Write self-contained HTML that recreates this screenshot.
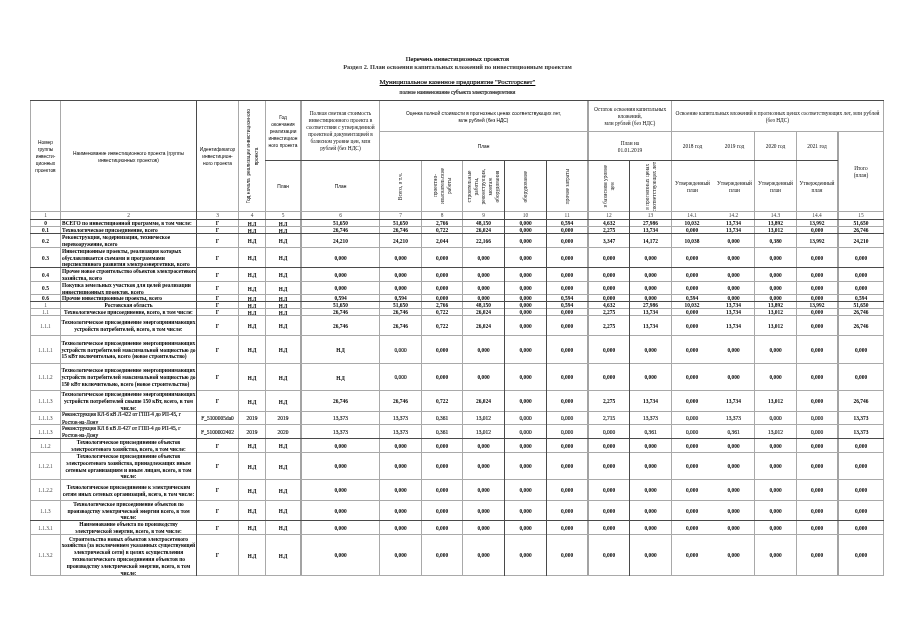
<!DOCTYPE html>
<html lang="ru"><head><meta charset="utf-8"><title>Перечень инвестиционных проектов</title><style>
*{margin:0;padding:0;box-sizing:border-box}
html,body{width:905px;height:640px;background:#fff;overflow:hidden}
body{position:relative;font-family:"Liberation Serif","DejaVu Serif",serif;color:#000}
i{position:absolute;display:block}
.t{position:absolute;left:0;width:915px;text-align:center;white-space:nowrap;font-family:"Liberation Serif",serif}
.t1{top:55px;font-size:6.63px;line-height:8px}
.t2{top:62.5px;font-size:6.32px;font-weight:bold;line-height:8px;color:#333}
.t3{top:78px;font-size:6.84px;line-height:8px}
.t3 u{text-decoration-thickness:0.6px;text-underline-offset:1px}
.t4{top:88.5px;font-size:5.38px;line-height:7px;color:#222}
.c{position:absolute;display:flex;align-items:center;justify-content:center;text-align:center;overflow:visible}
.c span{display:block}
.hs{font-family:"Liberation Sans",sans-serif;font-size:4.85px;line-height:7px;color:#000}
.hr{font-family:"Liberation Serif",serif;font-size:5.4px;line-height:7px;color:#111}
.r span{writing-mode:vertical-rl;transform:rotate(180deg);white-space:nowrap}
.nr{font-size:5.4px;line-height:7px;color:#444}
.bi{font-size:5.45px;line-height:6.7px;font-weight:bold}
.bi.light{font-weight:normal;color:#444;font-size:5.2px}
.bn{font-size:5.45px;line-height:6.95px;font-weight:bold;padding:0 1px;white-space:nowrap}
.bn.left{justify-content:flex-start;text-align:left}
.bn.just{text-align:justify;text-align-last:left}
.bn.regn{font-weight:normal;font-size:5.35px;line-height:7.2px;color:#111}
.bn.toptxt{align-items:flex-start;padding-top:0.5px}
.bv{font-size:5.45px;line-height:6.7px;font-weight:bold;white-space:nowrap}
.c.ndv{font-size:5.2px;padding-top:2px;letter-spacing:-0.15px}
.bv.regv{font-weight:normal;color:#222}
.t1,.t3,.t4,.regn,.regv{-webkit-text-stroke:0.15px currentColor}
.hs,.hr{padding-top:2px}
.bi,.bn,.bv{padding-top:1px}
</style></head><body>
<div class="t t1">Перечень инвестиционных проектов</div>
<div class="t t2">Раздел 2. План освоения капитальных вложений по инвестиционным проектам</div>
<div class="t t3"><u>Муниципальное казенное предприятие "Ростгорсвет"</u></div>
<div class="t t4">полное наименование субъекта электроэнергетики</div>
<div class="c hs" style="left:31px;top:100px;width:29px;height:111px;"><span>Номер<br>группы<br>инвести-<br>ционных<br>проектов</span></div>
<div class="c hs" style="left:61px;top:100px;width:135px;height:111px;"><span>Наименование инвестиционного проекта (группы<br>инвестиционных проектов)</span></div>
<div class="c hs" style="left:197px;top:100px;width:41px;height:111px;"><span>Идентификатор<br>инвестицион-<br>ного проекта</span></div>
<div class="c r hs" style="left:239px;top:100px;width:26px;height:111px;line-height:8px;padding-left:2px;"><span>Год начала &nbsp;реализации инвестиционного<br>проекта</span></div>
<div class="c hs" style="left:266px;top:100px;width:34px;height:60px;"><span>Год<br>окончания<br>реализации<br>инвестицион<br>ного проекта</span></div>
<div class="c hs" style="left:266px;top:160px;width:34px;height:51px;"><span>План</span></div>
<div class="c hr" style="left:302px;top:100px;width:77px;height:60px;"><span>Полная сметная стоимость<br>инвестиционного проекта в<br>соответствии с утвержденной<br>проектной документацией в<br>базисном уровне цен, млн<br>рублей (без НДС)</span></div>
<div class="c hs" style="left:302px;top:160px;width:77px;height:51px;"><span>План</span></div>
<div class="c hs" style="left:380px;top:100px;width:207px;height:31px;"><span>Оценка полной стоимости в прогнозных ценах соответствующих лет,<br>млн рублей (без НДС)</span></div>
<div class="c hs" style="left:380px;top:131px;width:207px;height:29px;"><span>План</span></div>
<div class="c r hr" style="left:380px;top:160px;width:41px;height:51px;"><span>Всего, в т.ч.</span></div>
<div class="c r hr" style="left:422px;top:160px;width:40px;height:51px;"><span>проектно-<br>изыскательские<br>работы</span></div>
<div class="c r hr" style="left:463px;top:160px;width:41px;height:51px;"><span>строительные<br>работы,<br>реконструкция,<br>монтаж<br>оборудования</span></div>
<div class="c r hr" style="left:505px;top:160px;width:41px;height:51px;"><span>оборудование</span></div>
<div class="c r hr" style="left:547px;top:160px;width:40px;height:51px;"><span>прочие затраты</span></div>
<div class="c hr" style="left:589px;top:100px;width:82px;height:31px;"><span>Остаток освоения капитальных<br>вложений,<br>млн рублей (без НДС)</span></div>
<div class="c hr" style="left:589px;top:131px;width:82px;height:29px;"><span>План на<br>01.01.2019</span></div>
<div class="c r hr" style="left:589px;top:160px;width:40px;height:51px;"><span>в базисном уровне<br>цен</span></div>
<div class="c r hr" style="left:630px;top:160px;width:41px;height:51px;"><span>в прогнозных ценах<br>соответствующих лет</span></div>
<div class="c hr" style="left:672px;top:100px;width:211px;height:31px;"><span>Освоение капитальных вложений в прогнозных ценах соответствующих лет, млн рублей<br>(без НДС)</span></div>
<div class="c hr" style="left:672px;top:131px;width:41px;height:29px;"><span>2018 год</span></div>
<div class="c hr" style="left:672px;top:160px;width:41px;height:51px;"><span>Утвержденный<br>план</span></div>
<div class="c hr" style="left:714px;top:131px;width:41px;height:29px;"><span>2019 год</span></div>
<div class="c hr" style="left:714px;top:160px;width:41px;height:51px;"><span>Утвержденный<br>план</span></div>
<div class="c hr" style="left:755px;top:131px;width:41px;height:29px;"><span>2020 год</span></div>
<div class="c hr" style="left:755px;top:160px;width:41px;height:51px;"><span>Утвержденный<br>план</span></div>
<div class="c hr" style="left:797px;top:131px;width:40px;height:29px;"><span>2021 год</span></div>
<div class="c hr" style="left:797px;top:160px;width:40px;height:51px;"><span>Утвержденный<br>план</span></div>
<div class="c hr" style="left:839px;top:131px;width:44px;height:80px;"><span>Итого<br>(план)</span></div>
<div class="c nr" style="left:31px;top:211px;width:29px;height:8px;"><span>1</span></div>
<div class="c nr" style="left:61px;top:211px;width:135px;height:8px;"><span>2</span></div>
<div class="c nr" style="left:197px;top:211px;width:41px;height:8px;"><span>3</span></div>
<div class="c nr" style="left:239px;top:211px;width:26px;height:8px;"><span>4</span></div>
<div class="c nr" style="left:266px;top:211px;width:34px;height:8px;"><span>5</span></div>
<div class="c nr" style="left:302px;top:211px;width:77px;height:8px;"><span>6</span></div>
<div class="c nr" style="left:380px;top:211px;width:41px;height:8px;"><span>7</span></div>
<div class="c nr" style="left:422px;top:211px;width:40px;height:8px;"><span>8</span></div>
<div class="c nr" style="left:463px;top:211px;width:41px;height:8px;"><span>9</span></div>
<div class="c nr" style="left:505px;top:211px;width:41px;height:8px;"><span>10</span></div>
<div class="c nr" style="left:547px;top:211px;width:40px;height:8px;"><span>11</span></div>
<div class="c nr" style="left:589px;top:211px;width:40px;height:8px;"><span>12</span></div>
<div class="c nr" style="left:630px;top:211px;width:41px;height:8px;"><span>13</span></div>
<div class="c nr" style="left:672px;top:211px;width:40px;height:8px;"><span>14.1</span></div>
<div class="c nr" style="left:713px;top:211px;width:41px;height:8px;"><span>14.2</span></div>
<div class="c nr" style="left:755px;top:211px;width:41px;height:8px;"><span>14.3</span></div>
<div class="c nr" style="left:797px;top:211px;width:40px;height:8px;"><span>14.4</span></div>
<div class="c nr" style="left:839px;top:211px;width:44px;height:8px;"><span>15</span></div>
<div class="c bi" style="left:31px;top:220px;width:29px;height:6px;"><span>0</span></div>
<div class="c bn left" style="left:61px;top:220px;width:135px;height:6px;"><span>ВСЕГО по инвестиционной программе, в том числе:</span></div>
<div class="c bv" style="left:197px;top:220px;width:41px;height:6px;"><span>Г</span></div>
<div class="c bv ndv" style="left:239px;top:220px;width:26px;height:6px;"><span>Н.Д</span></div>
<div class="c bv ndv" style="left:266px;top:220px;width:34px;height:6px;"><span>Н.Д</span></div>
<div class="c bv" style="left:302px;top:220px;width:77px;height:6px;"><span>51,650</span></div>
<div class="c bv" style="left:380px;top:220px;width:41px;height:6px;"><span>51,650</span></div>
<div class="c bv" style="left:422px;top:220px;width:40px;height:6px;"><span>2,766</span></div>
<div class="c bv" style="left:463px;top:220px;width:41px;height:6px;"><span>48,150</span></div>
<div class="c bv" style="left:505px;top:220px;width:41px;height:6px;"><span>0,000</span></div>
<div class="c bv" style="left:547px;top:220px;width:40px;height:6px;"><span>0,594</span></div>
<div class="c bv" style="left:589px;top:220px;width:40px;height:6px;"><span>4,632</span></div>
<div class="c bv" style="left:630px;top:220px;width:41px;height:6px;"><span>27,986</span></div>
<div class="c bv" style="left:672px;top:220px;width:40px;height:6px;"><span>10,032</span></div>
<div class="c bv" style="left:713px;top:220px;width:41px;height:6px;"><span>13,734</span></div>
<div class="c bv" style="left:755px;top:220px;width:41px;height:6px;"><span>13,892</span></div>
<div class="c bv" style="left:797px;top:220px;width:40px;height:6px;"><span>13,992</span></div>
<div class="c bv" style="left:839px;top:220px;width:44px;height:6px;"><span>51,650</span></div>
<div class="c bi" style="left:31px;top:227px;width:29px;height:6px;"><span>0.1</span></div>
<div class="c bn left" style="left:61px;top:227px;width:135px;height:6px;"><span>Технологическое присоединение, всего</span></div>
<div class="c bv" style="left:197px;top:227px;width:41px;height:6px;"><span>Г</span></div>
<div class="c bv ndv" style="left:239px;top:227px;width:26px;height:6px;"><span>Н.Д</span></div>
<div class="c bv ndv" style="left:266px;top:227px;width:34px;height:6px;"><span>Н.Д</span></div>
<div class="c bv" style="left:302px;top:227px;width:77px;height:6px;"><span>26,746</span></div>
<div class="c bv" style="left:380px;top:227px;width:41px;height:6px;"><span>26,746</span></div>
<div class="c bv" style="left:422px;top:227px;width:40px;height:6px;"><span>0,722</span></div>
<div class="c bv" style="left:463px;top:227px;width:41px;height:6px;"><span>26,024</span></div>
<div class="c bv" style="left:505px;top:227px;width:41px;height:6px;"><span>0,000</span></div>
<div class="c bv" style="left:547px;top:227px;width:40px;height:6px;"><span>0,000</span></div>
<div class="c bv" style="left:589px;top:227px;width:40px;height:6px;"><span>2,275</span></div>
<div class="c bv" style="left:630px;top:227px;width:41px;height:6px;"><span>13,734</span></div>
<div class="c bv" style="left:672px;top:227px;width:40px;height:6px;"><span>0,000</span></div>
<div class="c bv" style="left:713px;top:227px;width:41px;height:6px;"><span>13,734</span></div>
<div class="c bv" style="left:755px;top:227px;width:41px;height:6px;"><span>13,012</span></div>
<div class="c bv" style="left:797px;top:227px;width:40px;height:6px;"><span>0,000</span></div>
<div class="c bv" style="left:839px;top:227px;width:44px;height:6px;"><span>26,746</span></div>
<div class="c bi" style="left:31px;top:234px;width:29px;height:13px;"><span>0.2</span></div>
<div class="c bn left" style="left:61px;top:234px;width:135px;height:13px;"><span>Реконструкция, модернизация, техническое<br>перевооружение, всего</span></div>
<div class="c bv" style="left:197px;top:234px;width:41px;height:13px;"><span>Г</span></div>
<div class="c bv ndv" style="left:239px;top:234px;width:26px;height:13px;"><span>Н.Д</span></div>
<div class="c bv ndv" style="left:266px;top:234px;width:34px;height:13px;"><span>Н.Д</span></div>
<div class="c bv" style="left:302px;top:234px;width:77px;height:13px;"><span>24,210</span></div>
<div class="c bv" style="left:380px;top:234px;width:41px;height:13px;"><span>24,210</span></div>
<div class="c bv" style="left:422px;top:234px;width:40px;height:13px;"><span>2,044</span></div>
<div class="c bv" style="left:463px;top:234px;width:41px;height:13px;"><span>22,166</span></div>
<div class="c bv" style="left:505px;top:234px;width:41px;height:13px;"><span>0,000</span></div>
<div class="c bv" style="left:547px;top:234px;width:40px;height:13px;"><span>0,000</span></div>
<div class="c bv" style="left:589px;top:234px;width:40px;height:13px;"><span>3,347</span></div>
<div class="c bv" style="left:630px;top:234px;width:41px;height:13px;"><span>14,172</span></div>
<div class="c bv" style="left:672px;top:234px;width:40px;height:13px;"><span>10,038</span></div>
<div class="c bv" style="left:713px;top:234px;width:41px;height:13px;"><span>0,000</span></div>
<div class="c bv" style="left:755px;top:234px;width:41px;height:13px;"><span>0,380</span></div>
<div class="c bv" style="left:797px;top:234px;width:40px;height:13px;"><span>13,992</span></div>
<div class="c bv" style="left:839px;top:234px;width:44px;height:13px;"><span>24,210</span></div>
<div class="c bi" style="left:31px;top:248px;width:29px;height:19px;"><span>0.3</span></div>
<div class="c bn left" style="left:61px;top:248px;width:135px;height:19px;"><span>Инвестиционные проекты, реализация которых<br>обуславливается схемами и программами<br>перспективного развития электроэнергетики, всего</span></div>
<div class="c bv" style="left:197px;top:248px;width:41px;height:19px;"><span>Г</span></div>
<div class="c bv ndv" style="left:239px;top:248px;width:26px;height:19px;"><span>Н.Д</span></div>
<div class="c bv ndv" style="left:266px;top:248px;width:34px;height:19px;"><span>Н.Д</span></div>
<div class="c bv" style="left:302px;top:248px;width:77px;height:19px;"><span>0,000</span></div>
<div class="c bv" style="left:380px;top:248px;width:41px;height:19px;"><span>0,000</span></div>
<div class="c bv" style="left:422px;top:248px;width:40px;height:19px;"><span>0,000</span></div>
<div class="c bv" style="left:463px;top:248px;width:41px;height:19px;"><span>0,000</span></div>
<div class="c bv" style="left:505px;top:248px;width:41px;height:19px;"><span>0,000</span></div>
<div class="c bv" style="left:547px;top:248px;width:40px;height:19px;"><span>0,000</span></div>
<div class="c bv" style="left:589px;top:248px;width:40px;height:19px;"><span>0,000</span></div>
<div class="c bv" style="left:630px;top:248px;width:41px;height:19px;"><span>0,000</span></div>
<div class="c bv" style="left:672px;top:248px;width:40px;height:19px;"><span>0,000</span></div>
<div class="c bv" style="left:713px;top:248px;width:41px;height:19px;"><span>0,000</span></div>
<div class="c bv" style="left:755px;top:248px;width:41px;height:19px;"><span>0,000</span></div>
<div class="c bv" style="left:797px;top:248px;width:40px;height:19px;"><span>0,000</span></div>
<div class="c bv" style="left:839px;top:248px;width:44px;height:19px;"><span>0,000</span></div>
<div class="c bi" style="left:31px;top:268px;width:29px;height:13px;"><span>0.4</span></div>
<div class="c bn left" style="left:61px;top:268px;width:135px;height:13px;"><span>Прочее новое строительство объектов электросетевого<br>хозяйства, всего</span></div>
<div class="c bv" style="left:197px;top:268px;width:41px;height:13px;"><span>Г</span></div>
<div class="c bv ndv" style="left:239px;top:268px;width:26px;height:13px;"><span>Н.Д</span></div>
<div class="c bv ndv" style="left:266px;top:268px;width:34px;height:13px;"><span>Н.Д</span></div>
<div class="c bv" style="left:302px;top:268px;width:77px;height:13px;"><span>0,000</span></div>
<div class="c bv" style="left:380px;top:268px;width:41px;height:13px;"><span>0,000</span></div>
<div class="c bv" style="left:422px;top:268px;width:40px;height:13px;"><span>0,000</span></div>
<div class="c bv" style="left:463px;top:268px;width:41px;height:13px;"><span>0,000</span></div>
<div class="c bv" style="left:505px;top:268px;width:41px;height:13px;"><span>0,000</span></div>
<div class="c bv" style="left:547px;top:268px;width:40px;height:13px;"><span>0,000</span></div>
<div class="c bv" style="left:589px;top:268px;width:40px;height:13px;"><span>0,000</span></div>
<div class="c bv" style="left:630px;top:268px;width:41px;height:13px;"><span>0,000</span></div>
<div class="c bv" style="left:672px;top:268px;width:40px;height:13px;"><span>0,000</span></div>
<div class="c bv" style="left:713px;top:268px;width:41px;height:13px;"><span>0,000</span></div>
<div class="c bv" style="left:755px;top:268px;width:41px;height:13px;"><span>0,000</span></div>
<div class="c bv" style="left:797px;top:268px;width:40px;height:13px;"><span>0,000</span></div>
<div class="c bv" style="left:839px;top:268px;width:44px;height:13px;"><span>0,000</span></div>
<div class="c bi" style="left:31px;top:282px;width:29px;height:12px;"><span>0.5</span></div>
<div class="c bn left" style="left:61px;top:282px;width:135px;height:12px;"><span>Покупка земельных участков для целей реализации<br>инвестиционных проектов, всего</span></div>
<div class="c bv" style="left:197px;top:282px;width:41px;height:12px;"><span>Г</span></div>
<div class="c bv ndv" style="left:239px;top:282px;width:26px;height:12px;"><span>Н.Д</span></div>
<div class="c bv ndv" style="left:266px;top:282px;width:34px;height:12px;"><span>Н.Д</span></div>
<div class="c bv" style="left:302px;top:282px;width:77px;height:12px;"><span>0,000</span></div>
<div class="c bv" style="left:380px;top:282px;width:41px;height:12px;"><span>0,000</span></div>
<div class="c bv" style="left:422px;top:282px;width:40px;height:12px;"><span>0,000</span></div>
<div class="c bv" style="left:463px;top:282px;width:41px;height:12px;"><span>0,000</span></div>
<div class="c bv" style="left:505px;top:282px;width:41px;height:12px;"><span>0,000</span></div>
<div class="c bv" style="left:547px;top:282px;width:40px;height:12px;"><span>0,000</span></div>
<div class="c bv" style="left:589px;top:282px;width:40px;height:12px;"><span>0,000</span></div>
<div class="c bv" style="left:630px;top:282px;width:41px;height:12px;"><span>0,000</span></div>
<div class="c bv" style="left:672px;top:282px;width:40px;height:12px;"><span>0,000</span></div>
<div class="c bv" style="left:713px;top:282px;width:41px;height:12px;"><span>0,000</span></div>
<div class="c bv" style="left:755px;top:282px;width:41px;height:12px;"><span>0,000</span></div>
<div class="c bv" style="left:797px;top:282px;width:40px;height:12px;"><span>0,000</span></div>
<div class="c bv" style="left:839px;top:282px;width:44px;height:12px;"><span>0,000</span></div>
<div class="c bi" style="left:31px;top:295px;width:29px;height:6px;"><span>0.6</span></div>
<div class="c bn left" style="left:61px;top:295px;width:135px;height:6px;"><span>Прочие инвестиционные проекты, всего</span></div>
<div class="c bv" style="left:197px;top:295px;width:41px;height:6px;"><span>Г</span></div>
<div class="c bv ndv" style="left:239px;top:295px;width:26px;height:6px;"><span>Н.Д</span></div>
<div class="c bv ndv" style="left:266px;top:295px;width:34px;height:6px;"><span>Н.Д</span></div>
<div class="c bv" style="left:302px;top:295px;width:77px;height:6px;"><span>0,594</span></div>
<div class="c bv" style="left:380px;top:295px;width:41px;height:6px;"><span>0,594</span></div>
<div class="c bv" style="left:422px;top:295px;width:40px;height:6px;"><span>0,000</span></div>
<div class="c bv" style="left:463px;top:295px;width:41px;height:6px;"><span>0,000</span></div>
<div class="c bv" style="left:505px;top:295px;width:41px;height:6px;"><span>0,000</span></div>
<div class="c bv" style="left:547px;top:295px;width:40px;height:6px;"><span>0,594</span></div>
<div class="c bv" style="left:589px;top:295px;width:40px;height:6px;"><span>0,000</span></div>
<div class="c bv" style="left:630px;top:295px;width:41px;height:6px;"><span>0,000</span></div>
<div class="c bv" style="left:672px;top:295px;width:40px;height:6px;"><span>0,594</span></div>
<div class="c bv" style="left:713px;top:295px;width:41px;height:6px;"><span>0,000</span></div>
<div class="c bv" style="left:755px;top:295px;width:41px;height:6px;"><span>0,000</span></div>
<div class="c bv" style="left:797px;top:295px;width:40px;height:6px;"><span>0,000</span></div>
<div class="c bv" style="left:839px;top:295px;width:44px;height:6px;"><span>0,594</span></div>
<div class="c bi light" style="left:31px;top:302px;width:29px;height:6px;"><span>1</span></div>
<div class="c bn" style="left:61px;top:302px;width:135px;height:6px;"><span>Ростовская область</span></div>
<div class="c bv" style="left:197px;top:302px;width:41px;height:6px;"><span>Г</span></div>
<div class="c bv ndv" style="left:239px;top:302px;width:26px;height:6px;"><span>Н.Д</span></div>
<div class="c bv ndv" style="left:266px;top:302px;width:34px;height:6px;"><span>Н.Д</span></div>
<div class="c bv" style="left:302px;top:302px;width:77px;height:6px;"><span>51,650</span></div>
<div class="c bv" style="left:380px;top:302px;width:41px;height:6px;"><span>51,650</span></div>
<div class="c bv" style="left:422px;top:302px;width:40px;height:6px;"><span>2,766</span></div>
<div class="c bv" style="left:463px;top:302px;width:41px;height:6px;"><span>48,150</span></div>
<div class="c bv" style="left:505px;top:302px;width:41px;height:6px;"><span>0,000</span></div>
<div class="c bv" style="left:547px;top:302px;width:40px;height:6px;"><span>0,594</span></div>
<div class="c bv" style="left:589px;top:302px;width:40px;height:6px;"><span>4,632</span></div>
<div class="c bv" style="left:630px;top:302px;width:41px;height:6px;"><span>27,986</span></div>
<div class="c bv" style="left:672px;top:302px;width:40px;height:6px;"><span>10,032</span></div>
<div class="c bv" style="left:713px;top:302px;width:41px;height:6px;"><span>13,734</span></div>
<div class="c bv" style="left:755px;top:302px;width:41px;height:6px;"><span>13,892</span></div>
<div class="c bv" style="left:797px;top:302px;width:40px;height:6px;"><span>13,992</span></div>
<div class="c bv" style="left:839px;top:302px;width:44px;height:6px;"><span>51,650</span></div>
<div class="c bi light" style="left:31px;top:309px;width:29px;height:6px;"><span>1.1</span></div>
<div class="c bn" style="left:61px;top:309px;width:135px;height:6px;"><span>Технологическое присоединение, всего, в том числе:</span></div>
<div class="c bv" style="left:197px;top:309px;width:41px;height:6px;"><span>Г</span></div>
<div class="c bv ndv" style="left:239px;top:309px;width:26px;height:6px;"><span>Н.Д</span></div>
<div class="c bv ndv" style="left:266px;top:309px;width:34px;height:6px;"><span>Н.Д</span></div>
<div class="c bv" style="left:302px;top:309px;width:77px;height:6px;"><span>26,746</span></div>
<div class="c bv" style="left:380px;top:309px;width:41px;height:6px;"><span>26,746</span></div>
<div class="c bv" style="left:422px;top:309px;width:40px;height:6px;"><span>0,722</span></div>
<div class="c bv" style="left:463px;top:309px;width:41px;height:6px;"><span>26,024</span></div>
<div class="c bv" style="left:505px;top:309px;width:41px;height:6px;"><span>0,000</span></div>
<div class="c bv" style="left:547px;top:309px;width:40px;height:6px;"><span>0,000</span></div>
<div class="c bv" style="left:589px;top:309px;width:40px;height:6px;"><span>2,275</span></div>
<div class="c bv" style="left:630px;top:309px;width:41px;height:6px;"><span>13,734</span></div>
<div class="c bv" style="left:672px;top:309px;width:40px;height:6px;"><span>0,000</span></div>
<div class="c bv" style="left:713px;top:309px;width:41px;height:6px;"><span>13,734</span></div>
<div class="c bv" style="left:755px;top:309px;width:41px;height:6px;"><span>13,012</span></div>
<div class="c bv" style="left:797px;top:309px;width:40px;height:6px;"><span>0,000</span></div>
<div class="c bv" style="left:839px;top:309px;width:44px;height:6px;"><span>26,746</span></div>
<div class="c bi light" style="left:31px;top:316px;width:29px;height:19px;"><span>1.1.1</span></div>
<div class="c bn" style="left:61px;top:316px;width:135px;height:19px;"><span>Технологическое присоединение энергопринимающих<br>устройств потребителей, всего, в том числе:</span></div>
<div class="c bv" style="left:197px;top:316px;width:41px;height:19px;"><span>Г</span></div>
<div class="c bv ndv" style="left:239px;top:316px;width:26px;height:19px;"><span>Н.Д</span></div>
<div class="c bv ndv" style="left:266px;top:316px;width:34px;height:19px;"><span>Н.Д</span></div>
<div class="c bv" style="left:302px;top:316px;width:77px;height:19px;"><span>26,746</span></div>
<div class="c bv" style="left:380px;top:316px;width:41px;height:19px;"><span>26,746</span></div>
<div class="c bv" style="left:422px;top:316px;width:40px;height:19px;"><span>0,722</span></div>
<div class="c bv" style="left:463px;top:316px;width:41px;height:19px;"><span>26,024</span></div>
<div class="c bv" style="left:505px;top:316px;width:41px;height:19px;"><span>0,000</span></div>
<div class="c bv" style="left:547px;top:316px;width:40px;height:19px;"><span>0,000</span></div>
<div class="c bv" style="left:589px;top:316px;width:40px;height:19px;"><span>2,275</span></div>
<div class="c bv" style="left:630px;top:316px;width:41px;height:19px;"><span>13,734</span></div>
<div class="c bv" style="left:672px;top:316px;width:40px;height:19px;"><span>0,000</span></div>
<div class="c bv" style="left:713px;top:316px;width:41px;height:19px;"><span>13,734</span></div>
<div class="c bv" style="left:755px;top:316px;width:41px;height:19px;"><span>13,012</span></div>
<div class="c bv" style="left:797px;top:316px;width:40px;height:19px;"><span>0,000</span></div>
<div class="c bv" style="left:839px;top:316px;width:44px;height:19px;"><span>26,746</span></div>
<div class="c bi light" style="left:31px;top:336px;width:29px;height:27px;"><span>1.1.1.1</span></div>
<div class="c bn just" style="left:61px;top:336px;width:135px;height:27px;"><span>Технологическое присоединение энергопринимающих<br>устройств потребителей максимальной мощностью до<br>15 кВт включительно, всего (новое строительство)</span></div>
<div class="c bv" style="left:197px;top:336px;width:41px;height:27px;"><span>Г</span></div>
<div class="c bv ndv" style="left:239px;top:336px;width:26px;height:27px;"><span>Н.Д</span></div>
<div class="c bv ndv" style="left:266px;top:336px;width:34px;height:27px;"><span>Н.Д</span></div>
<div class="c bv ndv" style="left:302px;top:336px;width:77px;height:27px;"><span>Н.Д</span></div>
<div class="c bv regv" style="left:380px;top:336px;width:41px;height:27px;"><span>0,000</span></div>
<div class="c bv" style="left:422px;top:336px;width:40px;height:27px;"><span>0,000</span></div>
<div class="c bv" style="left:463px;top:336px;width:41px;height:27px;"><span>0,000</span></div>
<div class="c bv" style="left:505px;top:336px;width:41px;height:27px;"><span>0,000</span></div>
<div class="c bv" style="left:547px;top:336px;width:40px;height:27px;"><span>0,000</span></div>
<div class="c bv" style="left:589px;top:336px;width:40px;height:27px;"><span>0,000</span></div>
<div class="c bv" style="left:630px;top:336px;width:41px;height:27px;"><span>0,000</span></div>
<div class="c bv" style="left:672px;top:336px;width:40px;height:27px;"><span>0,000</span></div>
<div class="c bv" style="left:713px;top:336px;width:41px;height:27px;"><span>0,000</span></div>
<div class="c bv" style="left:755px;top:336px;width:41px;height:27px;"><span>0,000</span></div>
<div class="c bv" style="left:797px;top:336px;width:40px;height:27px;"><span>0,000</span></div>
<div class="c bv" style="left:839px;top:336px;width:44px;height:27px;"><span>0,000</span></div>
<div class="c bi light" style="left:31px;top:364px;width:29px;height:26px;"><span>1.1.1.2</span></div>
<div class="c bn just" style="left:61px;top:364px;width:135px;height:26px;"><span>Технологическое присоединение энергопринимающих<br>устройств потребителей максимальной мощностью до<br>150 кВт включительно, всего (новое строительство)</span></div>
<div class="c bv" style="left:197px;top:364px;width:41px;height:26px;"><span>Г</span></div>
<div class="c bv ndv" style="left:239px;top:364px;width:26px;height:26px;"><span>Н.Д</span></div>
<div class="c bv ndv" style="left:266px;top:364px;width:34px;height:26px;"><span>Н.Д</span></div>
<div class="c bv ndv" style="left:302px;top:364px;width:77px;height:26px;"><span>Н.Д</span></div>
<div class="c bv regv" style="left:380px;top:364px;width:41px;height:26px;"><span>0,000</span></div>
<div class="c bv" style="left:422px;top:364px;width:40px;height:26px;"><span>0,000</span></div>
<div class="c bv" style="left:463px;top:364px;width:41px;height:26px;"><span>0,000</span></div>
<div class="c bv" style="left:505px;top:364px;width:41px;height:26px;"><span>0,000</span></div>
<div class="c bv" style="left:547px;top:364px;width:40px;height:26px;"><span>0,000</span></div>
<div class="c bv" style="left:589px;top:364px;width:40px;height:26px;"><span>0,000</span></div>
<div class="c bv" style="left:630px;top:364px;width:41px;height:26px;"><span>0,000</span></div>
<div class="c bv" style="left:672px;top:364px;width:40px;height:26px;"><span>0,000</span></div>
<div class="c bv" style="left:713px;top:364px;width:41px;height:26px;"><span>0,000</span></div>
<div class="c bv" style="left:755px;top:364px;width:41px;height:26px;"><span>0,000</span></div>
<div class="c bv" style="left:797px;top:364px;width:40px;height:26px;"><span>0,000</span></div>
<div class="c bv" style="left:839px;top:364px;width:44px;height:26px;"><span>0,000</span></div>
<div class="c bi light" style="left:31px;top:391px;width:29px;height:20px;"><span>1.1.1.3</span></div>
<div class="c bn" style="left:61px;top:391px;width:135px;height:20px;"><span>Технологическое присоединение энергопринимающих<br>устройств потребителей свыше 150 кВт, всего, в том<br>числе:</span></div>
<div class="c bv" style="left:197px;top:391px;width:41px;height:20px;"><span>Г</span></div>
<div class="c bv ndv" style="left:239px;top:391px;width:26px;height:20px;"><span>Н.Д</span></div>
<div class="c bv ndv" style="left:266px;top:391px;width:34px;height:20px;"><span>Н.Д</span></div>
<div class="c bv" style="left:302px;top:391px;width:77px;height:20px;"><span>26,746</span></div>
<div class="c bv" style="left:380px;top:391px;width:41px;height:20px;"><span>26,746</span></div>
<div class="c bv" style="left:422px;top:391px;width:40px;height:20px;"><span>0,722</span></div>
<div class="c bv" style="left:463px;top:391px;width:41px;height:20px;"><span>26,024</span></div>
<div class="c bv" style="left:505px;top:391px;width:41px;height:20px;"><span>0,000</span></div>
<div class="c bv" style="left:547px;top:391px;width:40px;height:20px;"><span>0,000</span></div>
<div class="c bv" style="left:589px;top:391px;width:40px;height:20px;"><span>2,275</span></div>
<div class="c bv" style="left:630px;top:391px;width:41px;height:20px;"><span>13,734</span></div>
<div class="c bv" style="left:672px;top:391px;width:40px;height:20px;"><span>0,000</span></div>
<div class="c bv" style="left:713px;top:391px;width:41px;height:20px;"><span>13,734</span></div>
<div class="c bv" style="left:755px;top:391px;width:41px;height:20px;"><span>13,012</span></div>
<div class="c bv" style="left:797px;top:391px;width:40px;height:20px;"><span>0,000</span></div>
<div class="c bv" style="left:839px;top:391px;width:44px;height:20px;"><span>26,746</span></div>
<div class="c bi light" style="left:31px;top:412px;width:29px;height:12px;"><span>1.1.1.3</span></div>
<div class="c bn left regn" style="left:61px;top:412px;width:135px;height:12px;"><span>Реконструкция КЛ-6 кВ Л-422 от ГПП-4 до РП-45, г<br>Ростов-на-Дону</span></div>
<div class="c bv regv" style="left:197px;top:412px;width:41px;height:12px;"><span>F_5100005da0</span></div>
<div class="c bv regv" style="left:239px;top:412px;width:26px;height:12px;"><span>2019</span></div>
<div class="c bv regv" style="left:266px;top:412px;width:34px;height:12px;"><span>2019</span></div>
<div class="c bv regv" style="left:302px;top:412px;width:77px;height:12px;"><span>13,373</span></div>
<div class="c bv regv" style="left:380px;top:412px;width:41px;height:12px;"><span>13,373</span></div>
<div class="c bv regv" style="left:422px;top:412px;width:40px;height:12px;"><span>0,361</span></div>
<div class="c bv regv" style="left:463px;top:412px;width:41px;height:12px;"><span>13,012</span></div>
<div class="c bv regv" style="left:505px;top:412px;width:41px;height:12px;"><span>0,000</span></div>
<div class="c bv regv" style="left:547px;top:412px;width:40px;height:12px;"><span>0,000</span></div>
<div class="c bv regv" style="left:589px;top:412px;width:40px;height:12px;"><span>2,715</span></div>
<div class="c bv regv" style="left:630px;top:412px;width:41px;height:12px;"><span>13,373</span></div>
<div class="c bv regv" style="left:672px;top:412px;width:40px;height:12px;"><span>0,000</span></div>
<div class="c bv regv" style="left:713px;top:412px;width:41px;height:12px;"><span>13,373</span></div>
<div class="c bv regv" style="left:755px;top:412px;width:41px;height:12px;"><span>0,000</span></div>
<div class="c bv regv" style="left:797px;top:412px;width:40px;height:12px;"><span>0,000</span></div>
<div class="c bv" style="left:839px;top:412px;width:44px;height:12px;"><span>13,373</span></div>
<div class="c bi light" style="left:31px;top:425px;width:29px;height:13px;"><span>1.1.1.3</span></div>
<div class="c bn left regn" style="left:61px;top:425px;width:135px;height:13px;"><span>Реконструкция КЛ 6 кВ Л-427 от ГПП-4 до РП-45, г<br>Ростов-на-Дону</span></div>
<div class="c bv regv" style="left:197px;top:425px;width:41px;height:13px;"><span>F_5100002402</span></div>
<div class="c bv regv" style="left:239px;top:425px;width:26px;height:13px;"><span>2019</span></div>
<div class="c bv regv" style="left:266px;top:425px;width:34px;height:13px;"><span>2020</span></div>
<div class="c bv regv" style="left:302px;top:425px;width:77px;height:13px;"><span>13,373</span></div>
<div class="c bv regv" style="left:380px;top:425px;width:41px;height:13px;"><span>13,373</span></div>
<div class="c bv regv" style="left:422px;top:425px;width:40px;height:13px;"><span>0,361</span></div>
<div class="c bv regv" style="left:463px;top:425px;width:41px;height:13px;"><span>13,012</span></div>
<div class="c bv regv" style="left:505px;top:425px;width:41px;height:13px;"><span>0,000</span></div>
<div class="c bv regv" style="left:547px;top:425px;width:40px;height:13px;"><span>0,000</span></div>
<div class="c bv regv" style="left:589px;top:425px;width:40px;height:13px;"><span>0,000</span></div>
<div class="c bv regv" style="left:630px;top:425px;width:41px;height:13px;"><span>0,361</span></div>
<div class="c bv regv" style="left:672px;top:425px;width:40px;height:13px;"><span>0,000</span></div>
<div class="c bv regv" style="left:713px;top:425px;width:41px;height:13px;"><span>0,361</span></div>
<div class="c bv regv" style="left:755px;top:425px;width:41px;height:13px;"><span>13,012</span></div>
<div class="c bv regv" style="left:797px;top:425px;width:40px;height:13px;"><span>0,000</span></div>
<div class="c bv" style="left:839px;top:425px;width:44px;height:13px;"><span>13,373</span></div>
<div class="c bi light" style="left:31px;top:439px;width:29px;height:13px;"><span>1.1.2</span></div>
<div class="c bn" style="left:61px;top:439px;width:135px;height:13px;"><span>Технологическое присоединение объектов<br>электросетевого хозяйства, всего, в том числе:</span></div>
<div class="c bv" style="left:197px;top:439px;width:41px;height:13px;"><span>Г</span></div>
<div class="c bv ndv" style="left:239px;top:439px;width:26px;height:13px;"><span>Н.Д</span></div>
<div class="c bv ndv" style="left:266px;top:439px;width:34px;height:13px;"><span>Н.Д</span></div>
<div class="c bv" style="left:302px;top:439px;width:77px;height:13px;"><span>0,000</span></div>
<div class="c bv" style="left:380px;top:439px;width:41px;height:13px;"><span>0,000</span></div>
<div class="c bv" style="left:422px;top:439px;width:40px;height:13px;"><span>0,000</span></div>
<div class="c bv" style="left:463px;top:439px;width:41px;height:13px;"><span>0,000</span></div>
<div class="c bv" style="left:505px;top:439px;width:41px;height:13px;"><span>0,000</span></div>
<div class="c bv" style="left:547px;top:439px;width:40px;height:13px;"><span>0,000</span></div>
<div class="c bv" style="left:589px;top:439px;width:40px;height:13px;"><span>0,000</span></div>
<div class="c bv" style="left:630px;top:439px;width:41px;height:13px;"><span>0,000</span></div>
<div class="c bv" style="left:672px;top:439px;width:40px;height:13px;"><span>0,000</span></div>
<div class="c bv" style="left:713px;top:439px;width:41px;height:13px;"><span>0,000</span></div>
<div class="c bv" style="left:755px;top:439px;width:41px;height:13px;"><span>0,000</span></div>
<div class="c bv" style="left:797px;top:439px;width:40px;height:13px;"><span>0,000</span></div>
<div class="c bv" style="left:839px;top:439px;width:44px;height:13px;"><span>0,000</span></div>
<div class="c bi light" style="left:31px;top:453px;width:29px;height:26px;"><span>1.1.2.1</span></div>
<div class="c bn" style="left:61px;top:453px;width:135px;height:26px;"><span>Технологическое присоединение объектов<br>электросетевого хозяйства, принадлежащих иным<br>сетевым организациям и иным лицам, всего, в том<br>числе:</span></div>
<div class="c bv" style="left:197px;top:453px;width:41px;height:26px;"><span>Г</span></div>
<div class="c bv ndv" style="left:239px;top:453px;width:26px;height:26px;"><span>Н.Д</span></div>
<div class="c bv ndv" style="left:266px;top:453px;width:34px;height:26px;"><span>Н.Д</span></div>
<div class="c bv" style="left:302px;top:453px;width:77px;height:26px;"><span>0,000</span></div>
<div class="c bv" style="left:380px;top:453px;width:41px;height:26px;"><span>0,000</span></div>
<div class="c bv" style="left:422px;top:453px;width:40px;height:26px;"><span>0,000</span></div>
<div class="c bv" style="left:463px;top:453px;width:41px;height:26px;"><span>0,000</span></div>
<div class="c bv" style="left:505px;top:453px;width:41px;height:26px;"><span>0,000</span></div>
<div class="c bv" style="left:547px;top:453px;width:40px;height:26px;"><span>0,000</span></div>
<div class="c bv" style="left:589px;top:453px;width:40px;height:26px;"><span>0,000</span></div>
<div class="c bv" style="left:630px;top:453px;width:41px;height:26px;"><span>0,000</span></div>
<div class="c bv" style="left:672px;top:453px;width:40px;height:26px;"><span>0,000</span></div>
<div class="c bv" style="left:713px;top:453px;width:41px;height:26px;"><span>0,000</span></div>
<div class="c bv" style="left:755px;top:453px;width:41px;height:26px;"><span>0,000</span></div>
<div class="c bv" style="left:797px;top:453px;width:40px;height:26px;"><span>0,000</span></div>
<div class="c bv" style="left:839px;top:453px;width:44px;height:26px;"><span>0,000</span></div>
<div class="c bi light" style="left:31px;top:480px;width:29px;height:20px;"><span>1.1.2.2</span></div>
<div class="c bn" style="left:61px;top:480px;width:135px;height:20px;"><span>Технологическое присоединение к электрическим<br>сетям иных сетевых организаций, всего, в том числе:</span></div>
<div class="c bv" style="left:197px;top:480px;width:41px;height:20px;"><span>Г</span></div>
<div class="c bv ndv" style="left:239px;top:480px;width:26px;height:20px;"><span>Н.Д</span></div>
<div class="c bv ndv" style="left:266px;top:480px;width:34px;height:20px;"><span>Н.Д</span></div>
<div class="c bv" style="left:302px;top:480px;width:77px;height:20px;"><span>0,000</span></div>
<div class="c bv" style="left:380px;top:480px;width:41px;height:20px;"><span>0,000</span></div>
<div class="c bv" style="left:422px;top:480px;width:40px;height:20px;"><span>0,000</span></div>
<div class="c bv" style="left:463px;top:480px;width:41px;height:20px;"><span>0,000</span></div>
<div class="c bv" style="left:505px;top:480px;width:41px;height:20px;"><span>0,000</span></div>
<div class="c bv" style="left:547px;top:480px;width:40px;height:20px;"><span>0,000</span></div>
<div class="c bv" style="left:589px;top:480px;width:40px;height:20px;"><span>0,000</span></div>
<div class="c bv" style="left:630px;top:480px;width:41px;height:20px;"><span>0,000</span></div>
<div class="c bv" style="left:672px;top:480px;width:40px;height:20px;"><span>0,000</span></div>
<div class="c bv" style="left:713px;top:480px;width:41px;height:20px;"><span>0,000</span></div>
<div class="c bv" style="left:755px;top:480px;width:41px;height:20px;"><span>0,000</span></div>
<div class="c bv" style="left:797px;top:480px;width:40px;height:20px;"><span>0,000</span></div>
<div class="c bv" style="left:839px;top:480px;width:44px;height:20px;"><span>0,000</span></div>
<div class="c bi light" style="left:31px;top:501px;width:29px;height:19px;"><span>1.1.3</span></div>
<div class="c bn" style="left:61px;top:501px;width:135px;height:19px;"><span>Технологическое присоединение объектов по<br>производству электрической энергии всего, в том<br>числе:</span></div>
<div class="c bv" style="left:197px;top:501px;width:41px;height:19px;"><span>Г</span></div>
<div class="c bv ndv" style="left:239px;top:501px;width:26px;height:19px;"><span>Н.Д</span></div>
<div class="c bv ndv" style="left:266px;top:501px;width:34px;height:19px;"><span>Н.Д</span></div>
<div class="c bv" style="left:302px;top:501px;width:77px;height:19px;"><span>0,000</span></div>
<div class="c bv" style="left:380px;top:501px;width:41px;height:19px;"><span>0,000</span></div>
<div class="c bv" style="left:422px;top:501px;width:40px;height:19px;"><span>0,000</span></div>
<div class="c bv" style="left:463px;top:501px;width:41px;height:19px;"><span>0,000</span></div>
<div class="c bv" style="left:505px;top:501px;width:41px;height:19px;"><span>0,000</span></div>
<div class="c bv" style="left:547px;top:501px;width:40px;height:19px;"><span>0,000</span></div>
<div class="c bv" style="left:589px;top:501px;width:40px;height:19px;"><span>0,000</span></div>
<div class="c bv" style="left:630px;top:501px;width:41px;height:19px;"><span>0,000</span></div>
<div class="c bv" style="left:672px;top:501px;width:40px;height:19px;"><span>0,000</span></div>
<div class="c bv" style="left:713px;top:501px;width:41px;height:19px;"><span>0,000</span></div>
<div class="c bv" style="left:755px;top:501px;width:41px;height:19px;"><span>0,000</span></div>
<div class="c bv" style="left:797px;top:501px;width:40px;height:19px;"><span>0,000</span></div>
<div class="c bv" style="left:839px;top:501px;width:44px;height:19px;"><span>0,000</span></div>
<div class="c bi light" style="left:31px;top:521px;width:29px;height:13px;"><span>1.1.3.1</span></div>
<div class="c bn" style="left:61px;top:521px;width:135px;height:13px;"><span>Наименование объекта по производству<br>электрической энергии, всего, в том числе:</span></div>
<div class="c bv" style="left:197px;top:521px;width:41px;height:13px;"><span>Г</span></div>
<div class="c bv ndv" style="left:239px;top:521px;width:26px;height:13px;"><span>Н.Д</span></div>
<div class="c bv ndv" style="left:266px;top:521px;width:34px;height:13px;"><span>Н.Д</span></div>
<div class="c bv" style="left:302px;top:521px;width:77px;height:13px;"><span>0,000</span></div>
<div class="c bv" style="left:380px;top:521px;width:41px;height:13px;"><span>0,000</span></div>
<div class="c bv" style="left:422px;top:521px;width:40px;height:13px;"><span>0,000</span></div>
<div class="c bv" style="left:463px;top:521px;width:41px;height:13px;"><span>0,000</span></div>
<div class="c bv" style="left:505px;top:521px;width:41px;height:13px;"><span>0,000</span></div>
<div class="c bv" style="left:547px;top:521px;width:40px;height:13px;"><span>0,000</span></div>
<div class="c bv" style="left:589px;top:521px;width:40px;height:13px;"><span>0,000</span></div>
<div class="c bv" style="left:630px;top:521px;width:41px;height:13px;"><span>0,000</span></div>
<div class="c bv" style="left:672px;top:521px;width:40px;height:13px;"><span>0,000</span></div>
<div class="c bv" style="left:713px;top:521px;width:41px;height:13px;"><span>0,000</span></div>
<div class="c bv" style="left:755px;top:521px;width:41px;height:13px;"><span>0,000</span></div>
<div class="c bv" style="left:797px;top:521px;width:40px;height:13px;"><span>0,000</span></div>
<div class="c bv" style="left:839px;top:521px;width:44px;height:13px;"><span>0,000</span></div>
<div class="c bi light" style="left:31px;top:535px;width:29px;height:40px;"><span>1.1.3.2</span></div>
<div class="c bn toptxt" style="left:61px;top:535px;width:135px;height:40px;"><span>Строительство новых объектов электросетевого<br>хозяйства (за исключением указанных существующей<br>электрической сети) в целях осуществления<br>технологического присоединения объектов по<br>производству электрической энергии, всего, в том<br>числе:</span></div>
<div class="c bv" style="left:197px;top:535px;width:41px;height:40px;"><span>Г</span></div>
<div class="c bv ndv" style="left:239px;top:535px;width:26px;height:40px;"><span>Н.Д</span></div>
<div class="c bv ndv" style="left:266px;top:535px;width:34px;height:40px;"><span>Н.Д</span></div>
<div class="c bv" style="left:302px;top:535px;width:77px;height:40px;"><span>0,000</span></div>
<div class="c bv" style="left:380px;top:535px;width:41px;height:40px;"><span>0,000</span></div>
<div class="c bv" style="left:422px;top:535px;width:40px;height:40px;"><span>0,000</span></div>
<div class="c bv" style="left:463px;top:535px;width:41px;height:40px;"><span>0,000</span></div>
<div class="c bv" style="left:505px;top:535px;width:41px;height:40px;"><span>0,000</span></div>
<div class="c bv" style="left:547px;top:535px;width:40px;height:40px;"><span>0,000</span></div>
<div class="c bv" style="left:589px;top:535px;width:40px;height:40px;"><span>0,000</span></div>
<div class="c bv" style="left:630px;top:535px;width:41px;height:40px;"><span>0,000</span></div>
<div class="c bv" style="left:672px;top:535px;width:40px;height:40px;"><span>0,000</span></div>
<div class="c bv" style="left:713px;top:535px;width:41px;height:40px;"><span>0,000</span></div>
<div class="c bv" style="left:755px;top:535px;width:41px;height:40px;"><span>0,000</span></div>
<div class="c bv" style="left:797px;top:535px;width:40px;height:40px;"><span>0,000</span></div>
<div class="c bv" style="left:839px;top:535px;width:44px;height:40px;"><span>0,000</span></div>
<i style="left:30px;top:100px;width:1px;height:476px;background:#a9a9a9"></i>
<i style="left:60px;top:100px;width:1px;height:476px;background:#a9a9a9"></i>
<i style="left:238px;top:100px;width:1px;height:476px;background:#a9a9a9"></i>
<i style="left:265px;top:100px;width:1px;height:476px;background:#a9a9a9"></i>
<i style="left:300px;top:100px;width:2px;height:476px;background:#a3a3a3"></i>
<i style="left:379px;top:100px;width:1px;height:476px;background:#a9a9a9"></i>
<i style="left:421px;top:160px;width:1px;height:416px;background:#a9a9a9"></i>
<i style="left:462px;top:160px;width:1px;height:416px;background:#a9a9a9"></i>
<i style="left:587px;top:100px;width:2px;height:476px;background:#a3a3a3"></i>
<i style="left:671px;top:100px;width:1px;height:476px;background:#a9a9a9"></i>
<i style="left:754px;top:131px;width:1px;height:445px;background:#a9a9a9"></i>
<i style="left:796px;top:131px;width:1px;height:445px;background:#a9a9a9"></i>
<i style="left:837px;top:131px;width:2px;height:445px;background:#a3a3a3"></i>
<i style="left:883px;top:100px;width:1px;height:476px;background:#a9a9a9"></i>
<i style="left:379px;top:131px;width:505px;height:1px;background:#a9a9a9"></i>
<i style="left:30px;top:211px;width:854px;height:1px;background:#a9a9a9"></i>
<i style="left:30px;top:226px;width:854px;height:1px;background:#a9a9a9"></i>
<i style="left:30px;top:247px;width:854px;height:1px;background:#a9a9a9"></i>
<i style="left:30px;top:281px;width:854px;height:1px;background:#a9a9a9"></i>
<i style="left:30px;top:294px;width:854px;height:1px;background:#a9a9a9"></i>
<i style="left:30px;top:308px;width:854px;height:1px;background:#a9a9a9"></i>
<i style="left:30px;top:315px;width:854px;height:1px;background:#a9a9a9"></i>
<i style="left:30px;top:335px;width:854px;height:1px;background:#a9a9a9"></i>
<i style="left:30px;top:363px;width:854px;height:1px;background:#a9a9a9"></i>
<i style="left:30px;top:390px;width:854px;height:1px;background:#a9a9a9"></i>
<i style="left:30px;top:411px;width:854px;height:1px;background:#a9a9a9"></i>
<i style="left:30px;top:424px;width:854px;height:1px;background:#a9a9a9"></i>
<i style="left:30px;top:452px;width:854px;height:1px;background:#a9a9a9"></i>
<i style="left:30px;top:479px;width:854px;height:1px;background:#a9a9a9"></i>
<i style="left:30px;top:500px;width:854px;height:1px;background:#a9a9a9"></i>
<i style="left:30px;top:534px;width:854px;height:1px;background:#a9a9a9"></i>
<i style="left:30px;top:575px;width:854px;height:1px;background:#a9a9a9"></i>
<i style="left:30px;top:100px;width:854px;height:1px;background:#4a4a4a"></i>
<i style="left:265px;top:160px;width:573px;height:1px;background:#4a4a4a"></i>
<i style="left:30px;top:219px;width:854px;height:1px;background:#4a4a4a"></i>
<i style="left:30px;top:233px;width:854px;height:1px;background:#4a4a4a"></i>
<i style="left:30px;top:267px;width:854px;height:1px;background:#4a4a4a"></i>
<i style="left:30px;top:301px;width:854px;height:1px;background:#4a4a4a"></i>
<i style="left:30px;top:438px;width:854px;height:1px;background:#4a4a4a"></i>
<i style="left:30px;top:520px;width:854px;height:1px;background:#4a4a4a"></i>
<i style="left:196px;top:100px;width:1px;height:476px;background:#4a4a4a"></i>
<i style="left:504px;top:160px;width:1px;height:416px;background:#4a4a4a"></i>
<i style="left:546px;top:160px;width:1px;height:416px;background:#4a4a4a"></i>
<i style="left:629px;top:160px;width:1px;height:416px;background:#4a4a4a"></i>
</body></html>
